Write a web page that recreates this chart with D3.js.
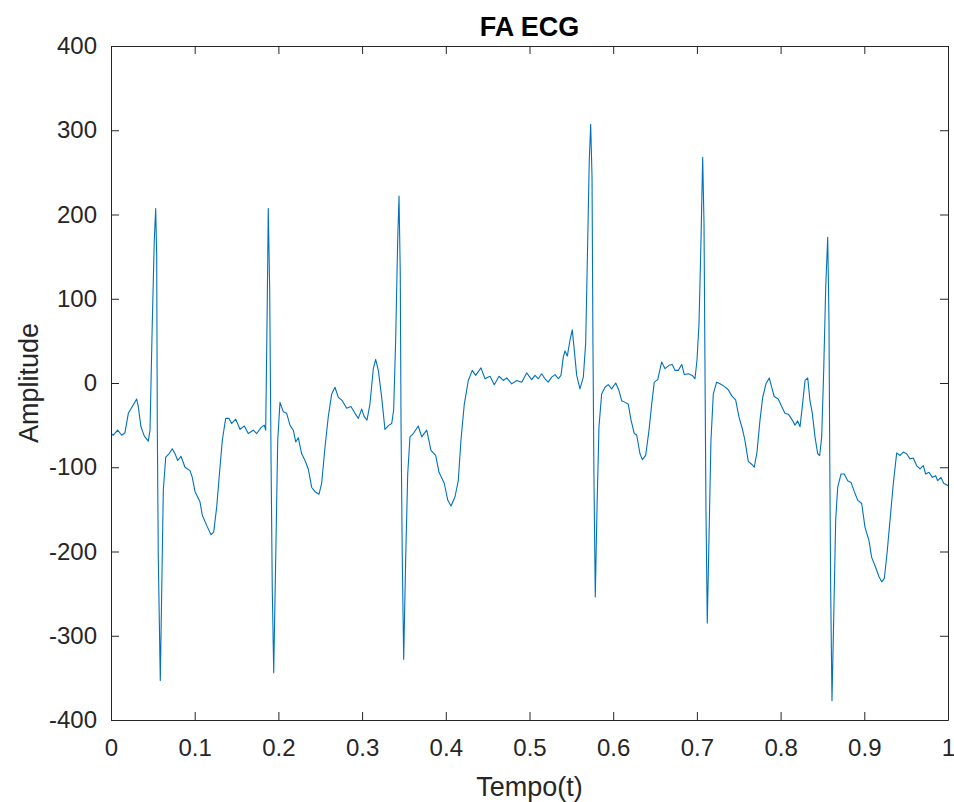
<!DOCTYPE html>
<html>
<head>
<meta charset="utf-8">
<script src="https://cdn.jsdelivr.net/npm/d3@7"></script>
<style>
  html, body { margin: 0; padding: 0; background: #fff; }
  svg { display: block; }
  text { font-family: "Liberation Sans Narrow", "Liberation Sans", Arial, Helvetica, sans-serif; fill: #262626; }
</style>
</head>
<body>
<svg id="chart" width="954" height="802"></svg>
<script>
const title = "FA ECG";
const xLabel = "Tempo(t)";
const yLabel = "Amplitude";
const xTicks = [0, 0.1, 0.2, 0.3, 0.4, 0.5, 0.6, 0.7, 0.8, 0.9, 1];
const yTicks = [-400, -300, -200, -100, 0, 100, 200, 300, 400];

const time = [
  0, 0.0027, 0.0080, 0.0128, 0.0167, 0.0207, 0.0254, 0.0307, 0.0326, 0.0358, 0.0398, 0.0446, 0.0466, 0.0493, 0.0517, 0.0534, 0.0546, 0.0553, 0.0565, 0.0589, 0.0606, 0.0625, 0.0654, 0.0693, 0.0732, 0.0765, 0.0797, 0.0836, 0.0884, 0.0944, 0.0971, 0.1004, 0.1063, 0.1091, 0.1143, 0.1195, 0.1227, 0.1263, 0.1302, 0.1330, 0.1370, 0.1410, 0.1442, 0.1490, 0.1541, 0.1593, 0.1640,
  0.1700, 0.1741, 0.1792, 0.1831, 0.1848, 0.1864, 0.1879, 0.1896, 0.1912, 0.1927, 0.1944, 0.1968, 0.1992, 0.2019, 0.2058, 0.2099, 0.2138, 0.2178, 0.2207, 0.2238, 0.2278, 0.2318, 0.2357, 0.2398, 0.2437, 0.2485, 0.2517, 0.2557, 0.2596, 0.2637, 0.2676, 0.2716, 0.2763, 0.2816, 0.2867, 0.2915, 0.2955, 0.2995, 0.3026, 0.3058, 0.3094, 0.3134, 0.3162, 0.3194, 0.3234, 0.3273, 0.3321,
  0.3354, 0.3377, 0.3401, 0.3425, 0.3441, 0.3456, 0.3465, 0.3480, 0.3497, 0.3521, 0.3545, 0.3572, 0.3612, 0.3671, 0.3712, 0.3772, 0.3823, 0.3879, 0.3919, 0.3982, 0.4023, 0.4062, 0.4110, 0.4149, 0.4181, 0.4221, 0.4269, 0.4316, 0.4357, 0.4420, 0.4468, 0.4528, 0.4579, 0.4636, 0.4687, 0.4728, 0.4787, 0.4847, 0.4907, 0.4966,
  0.5026, 0.5066, 0.5105, 0.5146, 0.5185, 0.5224, 0.5265, 0.5305, 0.5344, 0.5376, 0.5404, 0.5424, 0.5452, 0.5484, 0.5511, 0.5535, 0.5564, 0.5603, 0.5643, 0.5671, 0.5695, 0.5714, 0.5731, 0.5747, 0.5758, 0.5770, 0.5786, 0.5806, 0.5830, 0.5862, 0.5902, 0.5941, 0.5982, 0.6030, 0.6069, 0.6101, 0.6141, 0.6180, 0.6213, 0.6252, 0.6281, 0.6320, 0.6348, 0.6388, 0.6428, 0.6460, 0.6491, 0.6532, 0.6579, 0.6619, 0.6667,
  0.6706, 0.6738, 0.6778, 0.6819, 0.6850, 0.6897, 0.6945, 0.6977, 0.7001, 0.7025, 0.7049, 0.7069, 0.7085, 0.7097, 0.7108, 0.7124, 0.7144, 0.7168, 0.7196, 0.7236, 0.7276, 0.7327, 0.7375, 0.7415, 0.7463, 0.7502, 0.7542, 0.7574, 0.7614, 0.7661, 0.7685, 0.7718, 0.7754, 0.7786, 0.7825, 0.7865, 0.7893, 0.7924, 0.7972, 0.8013, 0.8052, 0.8092, 0.8140, 0.8172, 0.8204, 0.8232, 0.8259, 0.8292, 0.8324,
  0.8351, 0.8379, 0.8411, 0.8443, 0.8467, 0.8491, 0.8515, 0.8539, 0.8563, 0.8578, 0.8587, 0.8598, 0.8614, 0.8634, 0.8658, 0.8682, 0.8722, 0.8761, 0.8802, 0.8841, 0.8881, 0.8921, 0.8969, 0.9008, 0.9056, 0.9088, 0.9136, 0.9176, 0.9208, 0.9239, 0.9271, 0.9307, 0.9347, 0.9387, 0.9427, 0.9466, 0.9506, 0.9546, 0.9585, 0.9625, 0.9665, 0.9705, 0.9733, 0.9773, 0.9812, 0.9852, 0.9877, 0.9916, 0.9948, 1.0
];

const amplitude = [
  -60, -62, -56, -62, -59, -36, -28, -19, -28, -52, -63, -69, -56, 70, 169, 207, 150, -48, -207, -353, -246, -127, -88, -84, -78, -84, -92, -87, -100, -104, -112, -129, -141, -157, -169, -180, -177, -147, -100, -68, -42, -42, -48, -43, -55, -51, -60,
  -56, -60, -53, -50, -56, 70, 207, 110, -88, -246, -344, -207, -68, -23, -34, -36, -50, -56, -70, -65, -84, -92, -102, -124, -129, -132, -119, -76, -40, -13, -5, -17, -21, -30, -28, -36, -42, -31, -40, -44, -25, 17, 28, 15, -17, -55, -50,
  -48, -32, 51, 169, 222, 130, -48, -207, -328, -207, -108, -64, -60, -51, -64, -56, -80, -86, -106, -119, -139, -146, -135, -116, -68, -25, 3, 15, 9, 18, 5, 8, -2, 8, 3, 6, -1, 3, 1, 12,
  4, 9, 5, 11, 5, 1, 7, 10, 5, 9, 31, 38, 32, 51, 63, 39, 9, -7, 7, 47, 166, 264, 307, 245, 47, -112, -254, -151, -52, -13, -5, -2, -7, 0, -9, -21, -23, -25, -44, -60, -62, -84, -91, -86, -56, -25, 1, 4, 25, 17, 21,
  22, 15, 15, 22, 10, 11, 9, 5, 27, 70, 169, 268, 189, 11, -147, -285, -187, -68, -13, 1, -1, -4, -8, -15, -20, -40, -54, -68, -93, -97, -100, -82, -44, -17, -1, 6, -5, -16, -19, -28, -36, -37, -44, -50, -45, -52, -28, 3, 6,
  -21, -36, -64, -84, -86, -64, 15, 114, 173, 74, -84, -242, -377, -282, -163, -124, -108, -108, -116, -118, -129, -139, -143, -171, -187, -207, -219, -230, -236, -232, -203, -163, -119, -83, -86, -82, -84, -90, -89, -98, -102, -98, -108, -106, -112, -110, -116, -112, -119, -122
];

const data = time.map((t, i) => ({ t, v: amplitude[i] }));

const W = 954, H = 802;
const margin = { left: 111, right: W - 948, top: 46, bottom: H - 720 };
const x = d3.scaleLinear().domain([0, 1]).range([margin.left, W - margin.right]);
const y = d3.scaleLinear().domain([-400, 400]).range([H - margin.bottom, margin.top]);

const svg = d3.select("#chart");
const axisColor = "#262626";
const tickLen = 8;
const fontStack = '"Liberation Sans Narrow", "Liberation Sans", Arial, sans-serif';

// Data line
svg.append("path")
  .datum(data)
  .attr("fill", "none")
  .attr("stroke", "#0072BD")
  .attr("stroke-width", 1.1)
  .attr("stroke-linejoin", "round")
  .attr("d", d3.line().x(d => x(d.t)).y(d => y(d.v)));

function styleAxis(g) {
  g.select(".domain").attr("stroke", axisColor).attr("stroke-width", 1);
  g.selectAll(".tick line").attr("stroke", axisColor).attr("stroke-width", 1);
  g.selectAll(".tick text").attr("fill", axisColor)
    .style("font-family", fontStack)
    .style("font-size", "24px");
}
const fmt = d => String(d);

// bottom axis
const gx = svg.append("g")
  .attr("transform", `translate(0,${y(-400)})`)
  .call(d3.axisBottom(x).tickValues(xTicks).tickSizeInner(-tickLen).tickSizeOuter(0).tickPadding(19).tickFormat(fmt));
styleAxis(gx);

// top axis (ticks only)
const gxt = svg.append("g")
  .attr("transform", `translate(0,${y(400)})`)
  .call(d3.axisTop(x).tickValues(xTicks).tickSizeInner(-tickLen).tickSizeOuter(0).tickFormat(""));
styleAxis(gxt);

// left axis
const gy = svg.append("g")
  .attr("transform", `translate(${x(0)},0)`)
  .call(d3.axisLeft(y).tickValues(yTicks).tickSizeInner(-tickLen).tickSizeOuter(0).tickPadding(14).tickFormat(fmt));
styleAxis(gy);

// right axis
const gyr = svg.append("g")
  .attr("transform", `translate(${x(1)},0)`)
  .call(d3.axisRight(y).tickValues(yTicks).tickSizeInner(-tickLen).tickSizeOuter(0).tickFormat(""));
styleAxis(gyr);

// title
svg.append("text")
  .attr("x", (x(0) + x(1)) / 2)
  .attr("y", 36)
  .attr("text-anchor", "middle")
  .style("font-family", fontStack)
  .style("font-size", "27px")
  .style("font-weight", "bold")
  .style("fill", "#000")
  .text(title);

// x label
svg.append("text")
  .attr("x", (x(0) + x(1)) / 2)
  .attr("y", 796)
  .attr("text-anchor", "middle")
  .style("font-family", fontStack)
  .style("font-size", "27px")
  .text(xLabel);

// y label
svg.append("text")
  .attr("transform", `translate(38,${(y(-400) + y(400)) / 2}) rotate(-90)`)
  .attr("text-anchor", "middle")
  .style("font-family", fontStack)
  .style("font-size", "27px")
  .text(yLabel);
</script>
</body>
</html>
